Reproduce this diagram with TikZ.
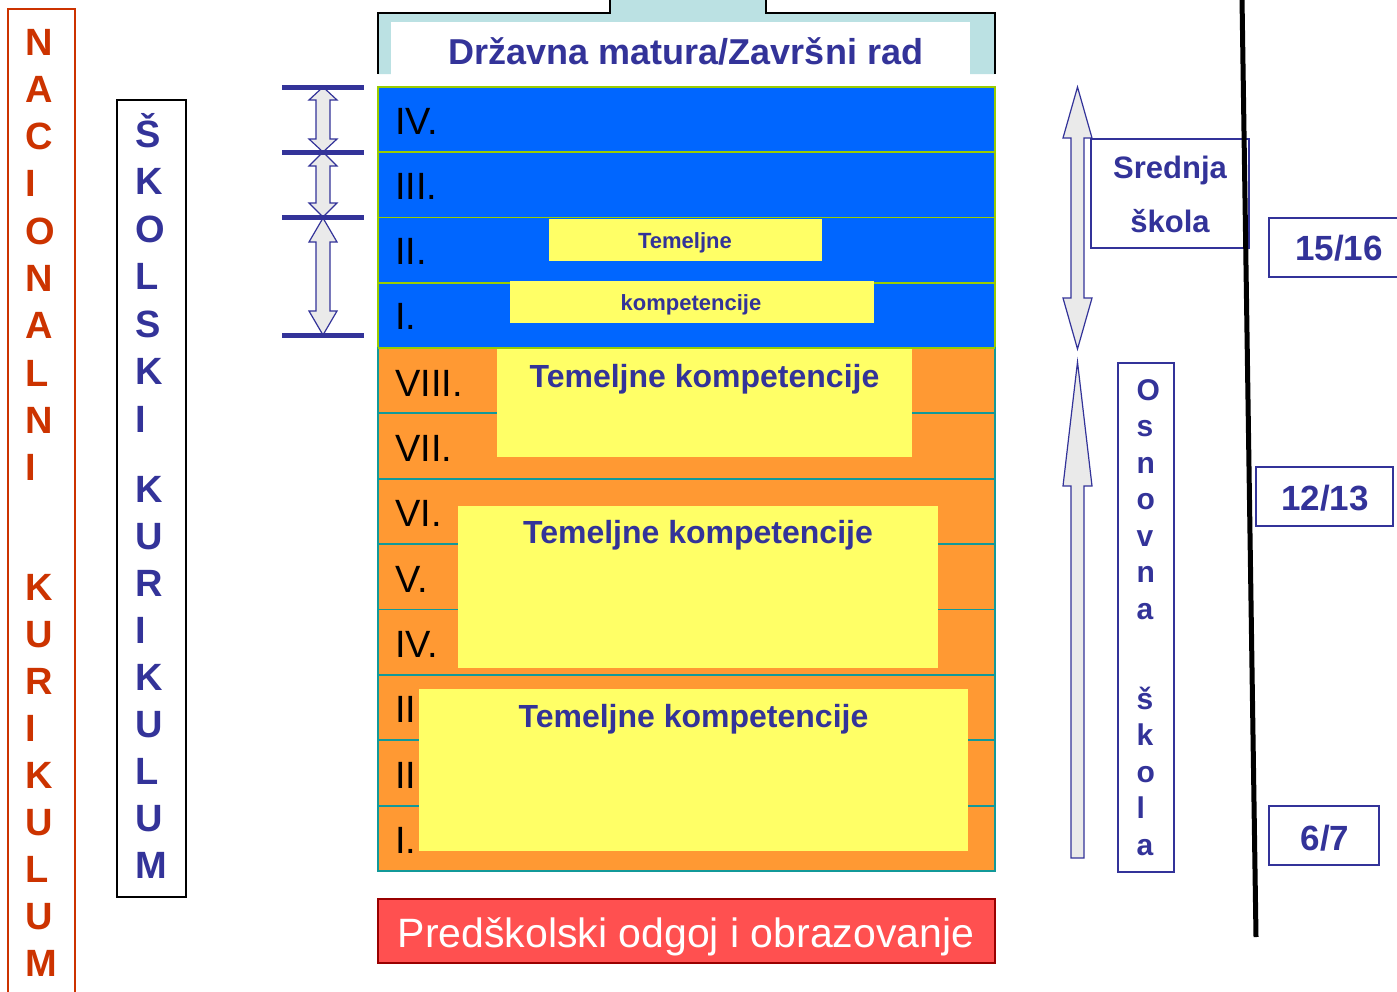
\documentclass[tikz,border=0pt]{standalone}
\usepackage{fontspec}
\setmainfont{Liberation Sans}
\definecolor{dblue}{HTML}{333399}
\definecolor{nacred}{HTML}{CC3300}
\definecolor{rowblue}{HTML}{0066FF}
\definecolor{roworange}{HTML}{FF9933}
\definecolor{yell}{HTML}{FFFF66}
\definecolor{tealline}{HTML}{119999}
\definecolor{greenline}{HTML}{99CC00}
\definecolor{frameblue}{HTML}{BBE1E3}
\definecolor{prered}{HTML}{FF5050}
\definecolor{predark}{HTML}{990000}
\definecolor{arrowfill}{HTML}{EAEAEA}
\newcommand\fsz[1]{\fontsize{#1}{#1}\selectfont}
\newcommand\myDblArrow[6]{% x, ytop, ybot, headlen, halfshaft, halfhead
  \filldraw[arrowstyle] ({#1-#5},{#2+#4}) -- ({#1-#6},{#2+#4}) -- (#1,#2) -- ({#1+#6},{#2+#4}) -- ({#1+#5},{#2+#4})
   -- ({#1+#5},{#3-#4}) -- ({#1+#6},{#3-#4}) -- (#1,#3) -- ({#1-#6},{#3-#4}) -- ({#1-#5},{#3-#4}) -- cycle;}
\begin{document}
\begin{tikzpicture}[x=1pt,y=-1pt,
  txt/.style={inner sep=0pt,anchor=base},
  lbl/.style={inner sep=0pt,anchor=base west,font=\fsz{38},text=black},
  blueRow/.style={fill=rowblue,draw=greenline,line width=1.8pt},
  orangeRow/.style={fill=roworange,draw=tealline,line width=1.8pt},
  yellowbox/.style={fill=yell},
  kompet/.style={txt,font=\fsz{32}\bfseries,text=dblue},
  smallkompet/.style={txt,font=\fsz{22}\bfseries,text=dblue},
  arrowstyle/.style={fill=arrowfill,draw=dblue,line width=1.2pt,line join=miter},
  numbox/.style={draw=dblue,line width=1.5pt},
  numtxt/.style={txt,font=\fsz{35}\bfseries,text=dblue},
  nacletter/.style={inner sep=0pt,anchor=base west,font=\fsz{38}\bfseries,text=nacred},
  skletter/.style={inner sep=0pt,anchor=base west,font=\fsz{38}\bfseries,text=dblue},
  osnletter/.style={inner sep=0pt,anchor=base west,font=\fsz{30}\bfseries,text=dblue},
  bar/.style={draw=dblue,line width=5pt}
]
\useasboundingbox[fill=white] (0,0) rectangle (1397,991);

% ---- top frame: Drzavna matura
\filldraw[fill=frameblue,draw=black,line width=1.5pt] (378,74) -- (378,13) -- (610,13) -- (610,-2) -- (766,-2) -- (766,13) -- (995,13) -- (995,74);
\fill[white] (391,22) rectangle (970,86);
\node[txt,font=\fsz{36}\bfseries,text=dblue] (matura) at (686,64) {Državna matura/Završni rad};

% ---- blue rows (secondary)
\foreach \t [count=\i] in {87,152.25,217.5,282.75}
  \draw[blueRow] (378,\t) rectangle (995,{\t+65.25});
\foreach \t/\l [count=\i] in {87/IV.,152.25/III.,217.5/II.,282.75/I.}
  \node[lbl] (srow\i) at (395,{\t+47}) {\l};
\fill[yellowbox] (549,219) rectangle (822,261);
\node[smallkompet] (temS) at (685,248) {Temeljne};
\fill[yellowbox] (510,281) rectangle (874,323);
\node[smallkompet] (komS) at (691,310) {kompetencije};

% ---- orange rows (primary)
\foreach \t in {348,413.4,478.75,544.1,609.5,674.9,740.25,805.6}
  \draw[orangeRow] (378,\t) rectangle (995,{\t+65.375});
\draw[greenline,line width=1.8pt] (378,348) -- (995,348);
\foreach \t/\l [count=\i] in {348/VIII.,413.4/VII.,478.75/VI.,544.1/V.,609.5/IV.,674.9/III.,740.25/II.,805.6/I.}
  \node[lbl] (prow\i) at (395,{\t+48}) {\l};
\fill[yellowbox] (497,349) rectangle (912,457);
\node[kompet] (tk1) at (704.5,387) {Temeljne kompetencije};
\fill[yellowbox] (458,506) rectangle (938,668);
\node[kompet] (tk2) at (698,543) {Temeljne kompetencije};
\fill[yellowbox] (419,689) rectangle (968,851);
\node[kompet] (tk3) at (693.5,727) {Temeljne kompetencije};

% ---- preschool
\filldraw[fill=prered,draw=predark,line width=1.5pt] (378,899) rectangle (995,963);
\node[txt,font=\fsz{41},text=white] (pred) at (686,947) {Predškolski odgoj i obrazovanje};

% ---- left double arrows and bars
\myDblArrow{323}{87}{152}{13}{7}{14}
\myDblArrow{323}{152}{217}{14}{7}{14}
\myDblArrow{323}{218}{335}{24}{7}{14}
\foreach \y in {87,152.5,217.5,335.5}
  \draw[bar] (282,\y) -- (364,\y);

% ---- right arrows
\myDblArrow{1077.5}{87}{349}{51}{6.5}{14.5}
\filldraw[arrowstyle] (1071,858) -- (1071,486) -- (1063,486) -- (1077.5,362) -- (1092,486) -- (1084,486) -- (1084,858) -- cycle;

% ---- Srednja skola box
\draw[numbox] (1091,139) rectangle (1249,248);
\node[txt,font=\fsz{31}\bfseries,text=dblue] (sred) at (1170,178) {Srednja};
\node[txt,font=\fsz{31}\bfseries,text=dblue] (skola) at (1170,232) {škola};

% ---- Osnovna skola box
\draw[numbox] (1118,363) rectangle (1174,872);
\foreach \c/\yy [count=\i] in {O/400,s/436.5,n/473,o/509.5,v/546,n/582.5,a/619,š/709,k/745.5,o/782,l/818.5,a/855}
  \node[osnletter] (osn\i) at (1136.5,\yy) {\c};

% ---- black divider
\draw[black,line width=5pt] (1242,-2) -- (1256,937);

% ---- age boxes
\draw[numbox] (1269,218) rectangle (1402,277);
\node[numtxt] (a1516) at (1339,260) {15/16};
\draw[numbox] (1256,467) rectangle (1393,526);
\node[numtxt] (a1213) at (1325,510) {12/13};
\draw[numbox] (1269,806) rectangle (1379,865);
\node[numtxt] (a67) at (1325,850) {6/7};

% ---- NACIONALNI KURIKULUM
\draw[nacred,line width=2pt] (8,1000) -- (8,9) -- (75,9) -- (75,1000);
\foreach \c/\yy [count=\i] in {N/55,A/102.3,C/149.6,I/196.9,O/244.2,N/291.5,A/338.8,L/386.1,N/433.4,I/480.7,K/600,U/647.1,R/694.2,I/741.3,K/788.4,U/835.5,L/882.6,U/929.7,M/976.8}
  \node[nacletter] (nac\i) at (25.5,\yy) {\c};

% ---- SKOLSKI KURIKULUM
\draw[black,line width=2.5pt] (117,100) rectangle (186,897);
\foreach \c/\yy [count=\i] in {Š/147,K/194.5,O/242,L/289.5,S/337,K/384.5,I/432,K/502,U/549,R/596,I/643,K/690,U/737,L/784,U/831,M/878}
  \node[skletter] (sk\i) at (135.5,\yy) {\c};
\end{tikzpicture}
\end{document}
